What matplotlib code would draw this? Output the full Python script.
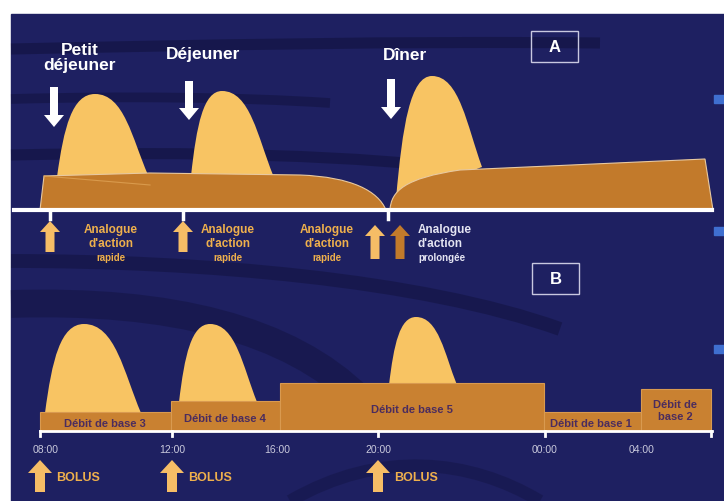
"""Schéma insuline : multi-injections (A) vs pompe (B)."""
import matplotlib
matplotlib.use("Agg")
import matplotlib.pyplot as plt
from matplotlib.path import Path
from matplotlib.patches import PathPatch, Rectangle, FancyArrow

plt.rcParams["font.family"] = ["Liberation Sans", "DejaVu Sans"]

# couleurs
NAVY = "#1e2061"
DARK = "#0d0e33"
YELLOW = "#f8c463"
BROWN = "#c27a2b"
BROWN_B = "#c98131"
ARROW_Y = "#f6bd66"
TXT_Y = "#efb04c"
TXT_DEBIT = "#4b2c5e"

meal_labels = ["Petit\ndéjeuner", "Déjeuner", "Dîner"]
meal_label_x = [80, 203, 405]
meal_label_y = [58, 55, 55]
meal_arrow_x = [54, 189, 391]
meal_arrow_top = [88, 82, 80]
meal_arrow_bottom = [128, 121, 120]

# bosses d'analogue rapide : début, pic, fin
bumpA_start = [(57, 178), (191, 177), (396, 200)]
bumpA_peak = [(95, 95), (222, 92), (432, 77)]
bumpA_end = [(148, 176), (273, 176), (482, 168)]

axisA_y = 211
axisA_ticks = [50, 183, 388]
injA_x = [50, 183, 375, 400]
injA_colors = [ARROW_Y, ARROW_Y, ARROW_Y, BROWN]
injA_text = ["Analogue\nd'action\nrapide"] * 3 + ["Analogue\nd'action\nprolongée"]
injA_text_x = [111, 228, 327, 418]
injA_text_ha = ["center", "center", "center", "left"]
injA_text_col = [TXT_Y, TXT_Y, TXT_Y, "#e4e4f2"]

# --- panneau B ---
hours = ["08:00", "12:00", "16:00", "20:00", "00:00", "04:00"]
hour_x = [46, 172, 277, 378, 545, 642]
basal_labels = ["Débit de base 3", "Débit de base 4", "Débit de base 5",
                "Débit de base 1", "Débit de\nbase 2"]
basal_left = [40, 171, 280, 544, 641]
basal_right = [171, 280, 544, 641, 711]
basal_top = [413, 402, 384, 413, 390]
basal_text_x = [105, 225, 412, 591, 675]
axisB_y = 432

bumpB_start = [(45, 414), (179, 403), (389, 386)]
bumpB_peak = [(84, 325), (210, 325), (416, 318)]
bumpB_end = [(141, 414), (257, 403), (457, 386)]

bolus_x = [40, 172, 378]


def bump_path(start, peak, end):
    x0, y0 = start
    xp, yp = peak
    x1, y1 = end
    dl, dr = xp - x0, x1 - xp
    verts = [
        (x0, y0),
        (x0 + 0.18 * dl, y0 - 0.6 * (y0 - yp)), (xp - 0.6 * dl, yp), (xp, yp),
        (xp + 0.55 * dr, yp), (x1 - 0.3 * dr, y1 - 0.45 * (y1 - yp)), (x1, y1),
        (x0, y0),
    ]
    codes = [Path.MOVETO] + [Path.CURVE4] * 6 + [Path.CLOSEPOLY]
    return Path(verts, codes)


def up_arrow(ax, x, y_bottom, y_top, color, width=10, head=24, head_len=12):
    ax.add_patch(FancyArrow(x, y_bottom, 0, y_top - y_bottom, width=width,
                            head_width=head, head_length=head_len,
                            length_includes_head=True, color=color, lw=0))


fig = plt.figure(figsize=(7.24, 5.02), dpi=100)
fig.patch.set_facecolor("white")
ax = fig.add_axes([0, 0, 1, 1])
ax.set_xlim(0, 724)
ax.set_ylim(502, 0)
ax.axis("off")

# fond bleu + bandes sombres (courbes douces)
ax.add_patch(Rectangle((11, 15), 713, 487, color=NAVY, zorder=0))
bands = [
    ([(11, 50), (200, 46), (400, 42), (600, 44)], 8, 0.45),
    ([(11, 100), (120, 97), (240, 98), (330, 104)], 7, 0.4),
    ([(11, 156), (200, 152), (360, 156), (480, 172)], 8, 0.45),
    ([(11, 262), (200, 262), (420, 280), (560, 330)], 10, 0.4),
    ([(11, 305), (170, 300), (290, 330), (360, 400)], 20, 0.35),
    ([(290, 502), (380, 450), (470, 460), (540, 502)], 9, 0.3),
]
for pts, lw, alpha in bands:
    band = Path(pts, [Path.MOVETO, Path.CURVE4, Path.CURVE4, Path.CURVE4])
    ax.add_patch(PathPatch(band, facecolor="none", edgecolor=DARK, lw=lw,
                           alpha=alpha, capstyle="butt", zorder=0.5))
for yb in [100, 232, 350]:
    ax.add_patch(Rectangle((714, yb - 4), 10, 8, color="#3f6fd0", zorder=0.6))

# ---------------- panneau A ----------------
for s, p, e in zip(bumpA_start, bumpA_peak, bumpA_end):
    ax.add_patch(PathPatch(bump_path(s, p, e), facecolor=YELLOW, edgecolor="none", zorder=2))

left_basal = Path(
    [(40, axisA_y), (44, 177), (150, 174), (300, 176),
     (352, 178), (378, 192), (386, axisA_y), (40, axisA_y)],
    [Path.MOVETO, Path.LINETO, Path.LINETO, Path.LINETO,
     Path.CURVE4, Path.CURVE4, Path.CURVE4, Path.CLOSEPOLY])
right_basal = Path(
    [(390, axisA_y), (391, 192), (405, 179), (460, 171),
     (705, 160), (713, axisA_y), (390, axisA_y)],
    [Path.MOVETO, Path.CURVE4, Path.CURVE4, Path.CURVE4,
     Path.LINETO, Path.LINETO, Path.CLOSEPOLY])
for pth in (left_basal, right_basal):
    ax.add_patch(PathPatch(pth, facecolor=BROWN, edgecolor="#e8c9a0", lw=0.8, zorder=3))
ax.plot([44, 150], [177, 186], color="#d99a4c", lw=0.8, zorder=3.5)

ax.plot([14, 712], [axisA_y, axisA_y], color="white", lw=3, zorder=4)
for tx in axisA_ticks:
    ax.plot([tx, tx], [axisA_y, axisA_y + 9], color="white", lw=2.5, zorder=4)

for lbl, lx, ly in zip(meal_labels, meal_label_x, meal_label_y):
    ax.text(lx, ly, lbl, color="white", fontsize=12.5, fontweight="bold",
            ha="center", va="center", linespacing=1.0, zorder=5)
for mx, top, bot in zip(meal_arrow_x, meal_arrow_top, meal_arrow_bottom):
    ax.add_patch(FancyArrow(mx, top, 0, bot - top, width=8, head_width=20,
                            head_length=12, length_includes_head=True,
                            color="white", lw=0, zorder=5))

for x, col in zip(injA_x, injA_colors):
    y0 = 253 if x < 300 else 260
    y1 = 222 if x < 300 else 226
    up_arrow(ax, x, y0, y1, col, width=9, head=20, head_len=11)
for txt, tx, ha, col in zip(injA_text, injA_text_x, injA_text_ha, injA_text_col):
    first, second, third = txt.split("\n")
    ax.text(tx, 230, first, color=col, fontsize=8.5, fontweight="bold", ha=ha, va="center")
    ax.text(tx, 244, second, color=col, fontsize=8.5, fontweight="bold", ha=ha, va="center")
    ax.text(tx, 258, third, color=col, fontsize=7, fontweight="bold", ha=ha, va="center")

ax.add_patch(Rectangle((531, 32), 47, 31, fill=False, edgecolor="#c8c8e0", lw=1, zorder=5))
ax.text(554.5, 48, "A", color="white", fontsize=12, fontweight="bold",
        ha="center", va="center", zorder=5)

# ---------------- panneau B ----------------
for s, p, e in zip(bumpB_start, bumpB_peak, bumpB_end):
    ax.add_patch(PathPatch(bump_path(s, p, e), facecolor=YELLOW, edgecolor="none", zorder=2))

for lbl, l, r, top, tx in zip(basal_labels, basal_left, basal_right, basal_top, basal_text_x):
    ax.add_patch(Rectangle((l, top), r - l, axisB_y - top, facecolor=BROWN_B,
                           edgecolor="#d99a50", lw=0.8, zorder=3))
    ty = (top + axisB_y) / 2 + (2 if "\n" not in lbl else 0)
    ax.text(tx, ty, lbl, color=TXT_DEBIT, fontsize=8, fontweight="bold",
            ha="center", va="center", linespacing=1.15, zorder=4)

ax.plot([40, 712], [axisB_y, axisB_y], color="white", lw=2, zorder=4)
for tx in [40, 172, 378, 545, 711]:
    ax.plot([tx, tx], [axisB_y, axisB_y + 5], color="white", lw=2, zorder=4)
for h, hx in zip(hours, hour_x):
    ax.text(hx, 450, h, color="#c9c9dc", fontsize=7.5, ha="center", va="center")

for bx in bolus_x:
    up_arrow(ax, bx, 493, 461, ARROW_Y, width=10, head=24, head_len=13)
    ax.text(bx + 16, 478, "BOLUS", color=TXT_Y, fontsize=9, fontweight="bold",
            ha="left", va="center")

ax.add_patch(Rectangle((532, 264), 47, 31, fill=False, edgecolor="#c8c8e0", lw=1, zorder=5))
ax.text(555.5, 280, "B", color="white", fontsize=12, fontweight="bold",
        ha="center", va="center", zorder=5)

fig.savefig("out.png", dpi=100)
plt.close(fig)
